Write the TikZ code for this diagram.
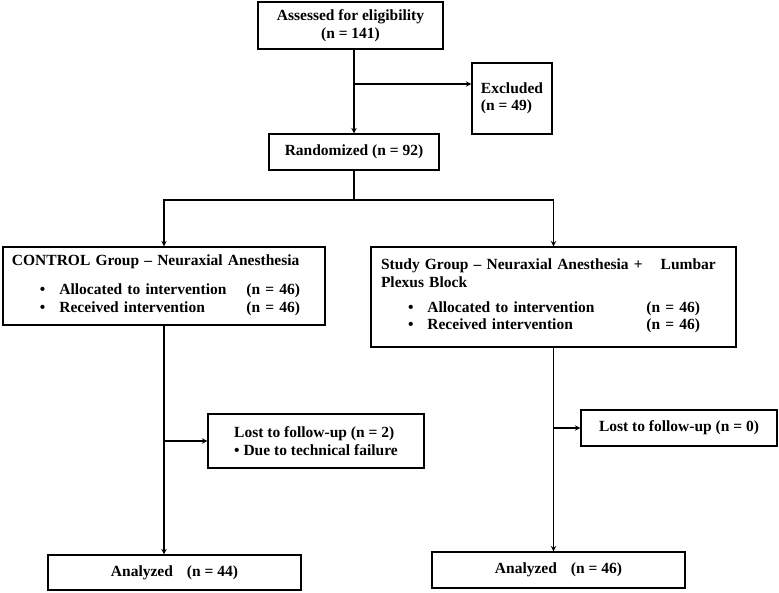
\documentclass[tikz,border=0pt]{standalone}
\usepackage{fontspec}
\setmainfont{Liberation Serif}
\usetikzlibrary{arrows, positioning}
\tikzstyle{process} = [rectangle, draw=black, line width=1.3pt, inner sep=0pt, font=\bfseries\fontsize{15.5}{17.5}\selectfont]
\tikzstyle{arrow} = [line width=1.4pt,->,>=stealth]
\tikzstyle{line} = [line width=1.4pt]

\begin{document}
\begin{tikzpicture}[x=1pt, y=-1pt]
        \useasboundingbox (0,0) rectangle (779,592);
        \node (assessed) [process, minimum width=185pt, minimum height=47pt, align=center] at (350.5,25.5) {Assessed for eligibility\\(n = 141)};
        \node (excluded) [process, minimum width=80pt, minimum height=71pt, align=left] at (512,98.5) {Excluded\\(n = 49)};
        \node (randomized) [process, minimum width=170pt, minimum height=36pt] at (354,152) {Randomized (n = 92)};
        \node (control) [process, minimum width=322pt, minimum height=78pt, text width=304pt, inner xsep=9pt, align=left] at (164,286) {CONTROL Group -- Neuraxial Anesthesia\\[13pt]
            \begin{tabular}{@{\hspace{28pt}}l@{\hspace{14pt}}l@{\hspace{20pt}}l@{}}
            \textbullet & Allocated to intervention & (n = 46)\\
            \textbullet & Received intervention & (n = 46)
            \end{tabular}};
        \node (study) [process, minimum width=365pt, minimum height=100pt, text width=345pt, inner xsep=10pt, align=left] at (553.5,297) {Study Group -- Neuraxial Anesthesia +\hspace{18pt}Lumbar\\Plexus Block\\[12pt]
            \begin{tabular}{@{\hspace{27pt}}l@{\hspace{14pt}}l@{\hspace{52pt}}l@{}}
            \textbullet & Allocated to intervention & (n = 46)\\
            \textbullet & Received intervention & (n = 46)
            \end{tabular}};
        \node (lost-control) [process, minimum width=216pt, minimum height=54pt, align=left] at (316,441) {Lost to follow-up (n = 2)\\\textbullet{} Due to technical failure};
        \node (lost-study) [process, minimum width=196pt, minimum height=36pt] at (679,428) {Lost to follow-up (n = 0)};
        \node (analyzed-control) [process, minimum width=253pt, minimum height=35pt] at (174.5,572.5) {Analyzed\hspace{14pt}(n = 44)};
        \node (analyzed-study) [process, minimum width=253pt, minimum height=36pt] at (558.5,570) {Analyzed\hspace{14pt}(n = 46)};

        \coordinate (split) at (354,84);
        \coordinate (fork) at (354,200);
        \draw [arrow] (assessed.south -| randomized.north) -- (randomized.north);
        \draw [arrow] (split) -- (excluded.west |- split);
        \draw [line] (randomized.south) -- (fork);
        \draw [arrow] (fork) -| (control.north);
        \draw [arrow] (fork) -| (study.north);
        \draw [arrow] (control.south) -- (control.south |- analyzed-control.north);
        \draw [arrow] (control.south |- lost-control.west) -- (lost-control.west);
        \draw [arrow] (study.south) -- (study.south |- analyzed-study.north);
        \draw [arrow] (study.south |- lost-study.west) -- (lost-study.west);
    \end{tikzpicture}
\end{document}
